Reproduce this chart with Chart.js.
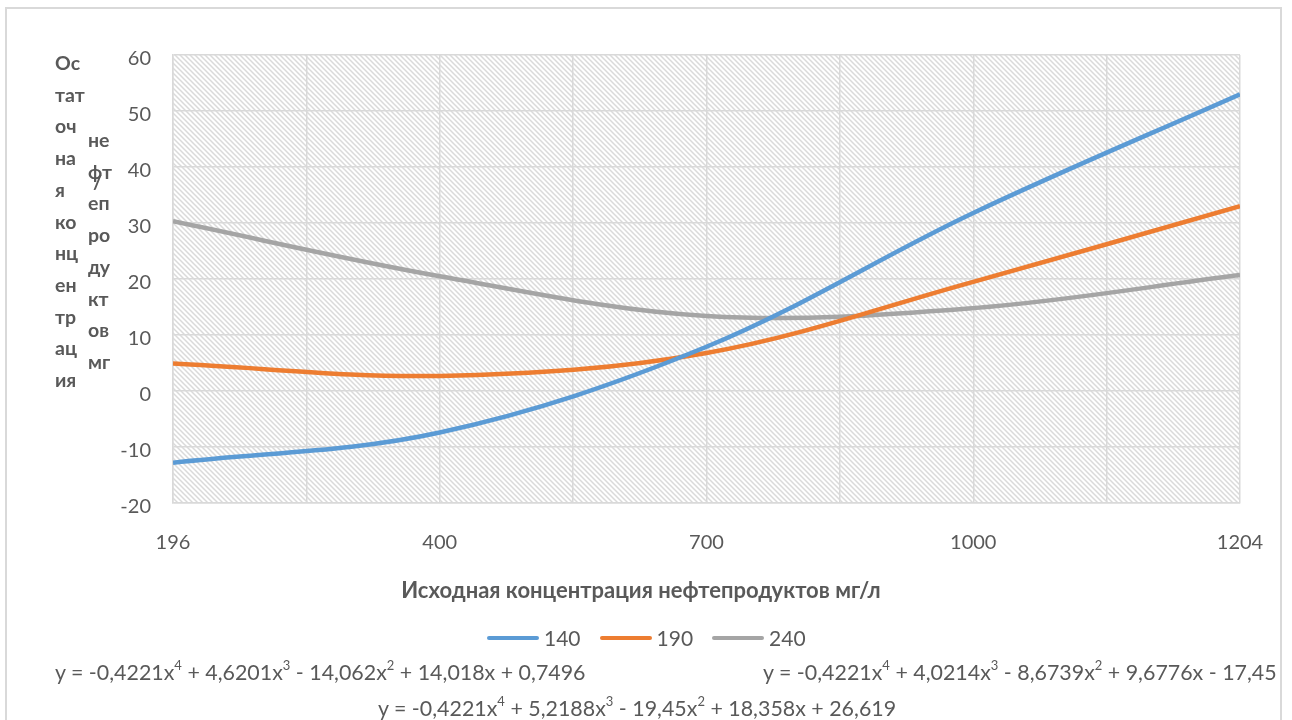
<!DOCTYPE html>
<html>
<head>
<meta charset="utf-8">
<script src="https://cdn.jsdelivr.net/npm/chart.js@4"></script>
<style>
  html, body { margin: 0; padding: 0; background: #fff; }
  #wrap { position: relative; width: 1292px; height: 720px; overflow: hidden; font-family: Lato, "Liberation Sans", sans-serif; color: #595959; }
  #frame { position: absolute; left: 5px; top: 7px; width: 1277px; height: 730px; border: 2px solid #d9d9d9; box-sizing: border-box; }
  canvas { position: absolute; left: 0; top: 0; }
  .t { position: absolute; white-space: nowrap; }
  .ytitle { font-weight: bold; font-size: 19.5px; line-height: 31.7px; }
  .xtitle { font-weight: bold; font-size: 22px; }
  .eq { font-size: 21.4px; }
  .eq sup { font-size: 13px; vertical-align: 10px; line-height: 0; }
  .leg { font-size: 21px; display: flex; align-items: center; }
  .leg i { display: inline-block; width: 52px; height: 4px; border-radius: 2px; margin-right: 5px; }
  .leg span { margin-right: 19px; }
</style>
</head>
<body>
<div id="wrap">
  <div id="frame"></div>
  <canvas id="chart" width="1292" height="720"></canvas>

  <div class="t ytitle" style="left:55px; top:47px;">Ос<br>тат<br>оч<br>на<br>я<br>ко<br>нц<br>ен<br>тр<br>ац<br>ия</div>
  <div class="t ytitle" style="left:88px; top:124px;">не<br>фт<br>еп<br>ро<br>ду<br>кт<br>ов<br>мг</div>
  <div class="t ytitle" style="left:93px; top:166px;">/</div>

  <div class="t xtitle" id="xtitle" style="left:0; width:1282px; text-align:center; top:576px;">Исходная концентрация нефтепродуктов мг/л</div>
  <div class="t leg" id="legend" style="left:487px; top:625px;"></div>

  <div class="t eq" style="left:55px; top:659px;">y = -0,4221x<sup>4</sup> + 4,6201x<sup>3</sup> - 14,062x<sup>2</sup> + 14,018x + 0,7496</div>
  <div class="t eq" style="left:763px; top:659px;">y = -0,4221x<sup>4</sup> + 4,0214x<sup>3</sup> - 8,6739x<sup>2</sup> + 9,6776x - 17,45</div>
  <div class="t eq" style="left:378px; top:695px;">y = -0,4221x<sup>4</sup> + 5,2188x<sup>3</sup> - 19,45x<sup>2</sup> + 18,358x + 26,619</div>
</div>

<script>
"use strict";

// x categories (equally spaced on the chart)
const CATEGORIES = ["196", "400", "700", "1000", "1204"];
const SERIES_NAMES = ["140", "190", "240"];
const VALUES_140 = [-12.8, -7.4, 7.9, 31.8, 53.0];
const VALUES_190 = [4.9, 2.7, 6.8, 19.5, 33.0];
const VALUES_240 = [30.3, 20.5, 13.4, 14.8, 20.7];
const Y_MIN = -20, Y_MAX = 60, Y_STEP = 10;

const COLORS = ["#5b9bd5", "#ed7d31", "#a5a5a5"];
const TICK_COLOR = "#595959";
const GRID_COLOR = "#d9d9d9";

const toPoints = (vals) => vals.map((v, i) => ({ x: i + 1, y: v }));

// diagonal hatch for the plot area
function hatchPattern(ctx) {
  const s = 5;
  const c = document.createElement("canvas");
  c.width = s; c.height = s;
  const g = c.getContext("2d");
  g.fillStyle = "#ffffff";
  g.fillRect(0, 0, s, s);
  g.strokeStyle = "#dadada";
  g.lineWidth = 1.5;
  g.beginPath();
  g.moveTo(-1, -1); g.lineTo(s + 1, s + 1);
  g.moveTo(-1, s - 1); g.lineTo(1, s + 1);
  g.moveTo(s - 1, -1); g.lineTo(s + 1, 1);
  g.stroke();
  return ctx.createPattern(c, "repeat");
}

const plotBg = {
  id: "plotBg",
  beforeDraw(chart) {
    const { ctx, chartArea: a } = chart;
    ctx.save();
    ctx.fillStyle = hatchPattern(ctx);
    ctx.fillRect(a.left, a.top, a.right - a.left, a.bottom - a.top);
    ctx.restore();
  },
};

const datasets = [VALUES_140, VALUES_190, VALUES_240].map((vals, i) => ({
  label: SERIES_NAMES[i],
  data: toPoints(vals),
  borderColor: COLORS[i],
  backgroundColor: COLORS[i],
  borderWidth: 4.5,
  pointRadius: 0,
  tension: 0.35,
  fill: false,
}));

new Chart(document.getElementById("chart"), {
  type: "line",
  data: { datasets },
  plugins: [plotBg],
  options: {
    responsive: false,
    animation: false,
    layout: { padding: { left: 100, top: 55, right: 52, bottom: 0 } },
    plugins: { legend: { display: false }, tooltip: { enabled: false } },
    scales: {
      x: {
        type: "linear",
        min: 1,
        max: CATEGORIES.length,
        afterFit: (s) => { s.height = 217; },
        ticks: {
          stepSize: 0.5,
          autoSkip: false,
          maxRotation: 0,
          padding: 28,
          color: TICK_COLOR,
          font: { family: "Lato", size: 20 },
          callback: (v) => (Number.isInteger(v) ? CATEGORIES[v - 1] : ""),
        },
        grid: { color: GRID_COLOR, lineWidth: 1.5, drawTicks: false },
        border: { color: GRID_COLOR, width: 1.5 },
      },
      y: {
        min: Y_MIN,
        max: Y_MAX,
        afterFit: (s) => { s.width = 73; },
        ticks: {
          stepSize: Y_STEP,
          padding: 22,
          labelOffset: 4,
          color: TICK_COLOR,
          font: { family: "Lato", size: 20 },
        },
        grid: { color: GRID_COLOR, lineWidth: 1.5, drawTicks: false },
        border: { color: GRID_COLOR, width: 1.5 },
      },
    },
  },
});

document.getElementById("legend").innerHTML = SERIES_NAMES
  .map((n, i) => `<i style="background:${COLORS[i]}"></i><span>${n}</span>`)
  .join("");
</script>
</body>
</html>
